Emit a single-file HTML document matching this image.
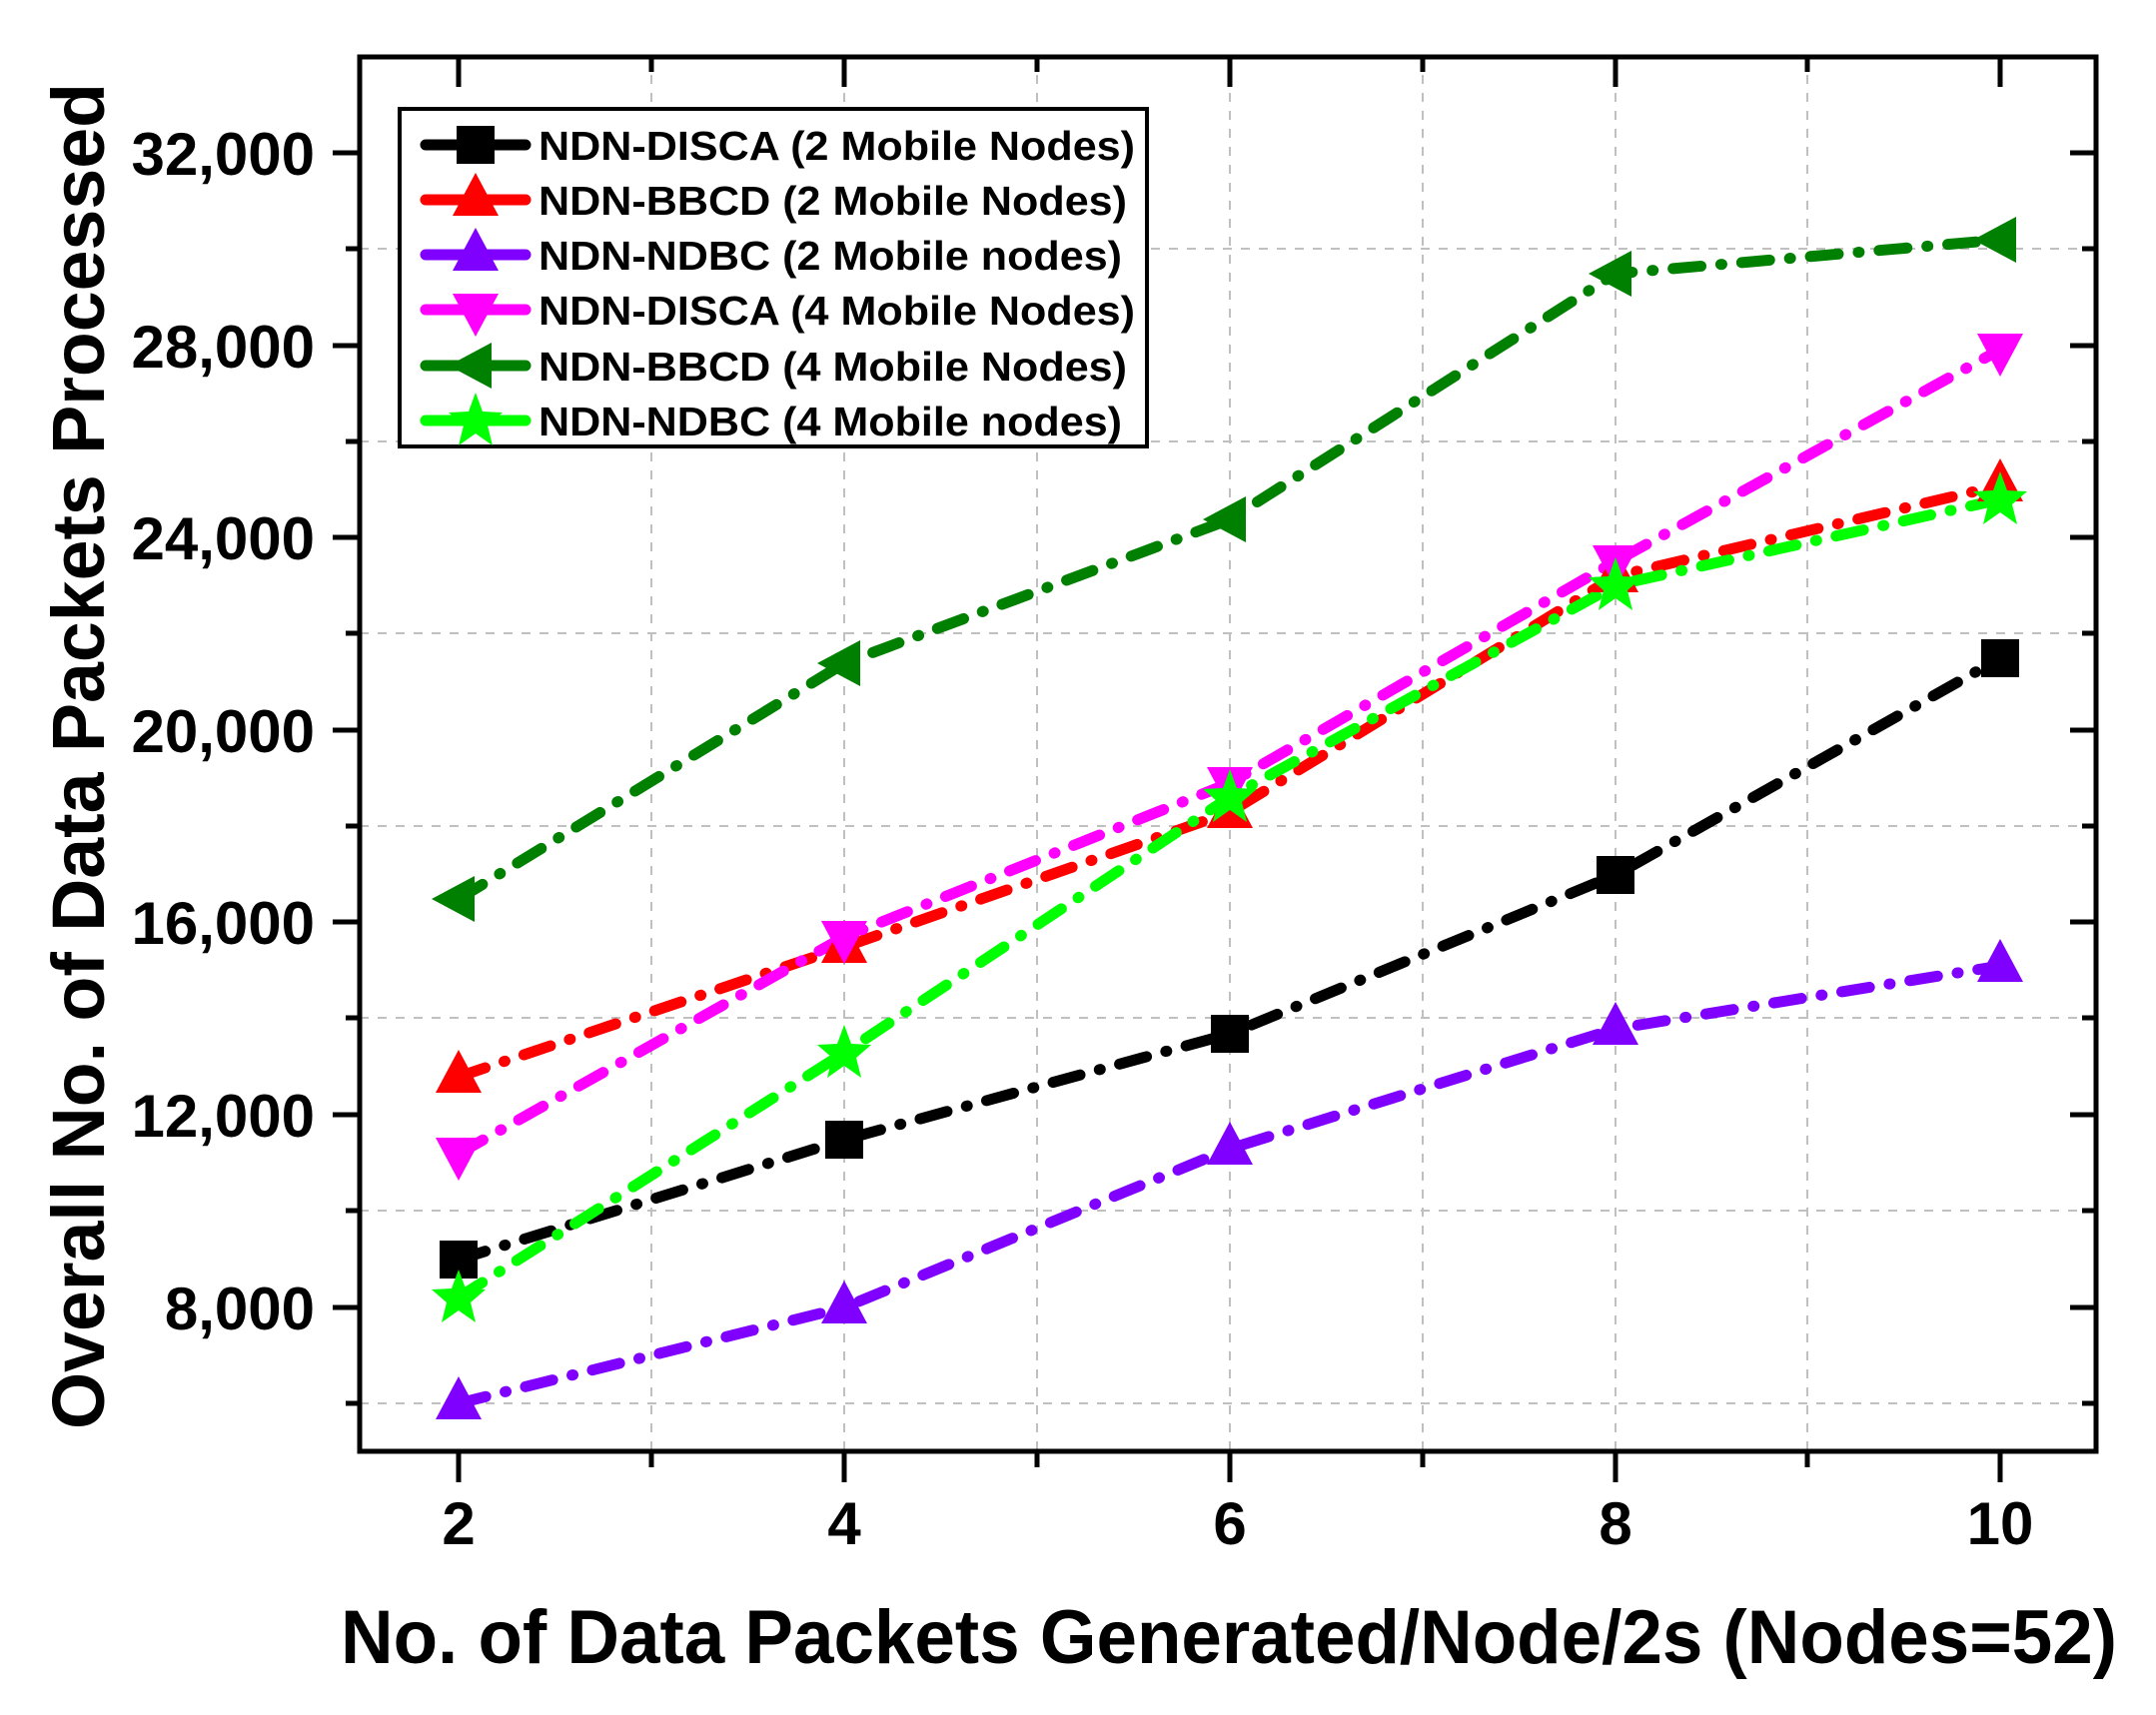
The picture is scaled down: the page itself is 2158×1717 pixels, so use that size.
<!DOCTYPE html>
<html><head><style>html,body{margin:0;padding:0;background:#fff;}svg{display:block}</style></head>
<body>
<svg width="2158" height="1717" viewBox="0 0 2158 1717" xmlns="http://www.w3.org/2000/svg" font-family="Liberation Sans, Arial, sans-serif" font-weight="bold">
<rect width="2158" height="1717" fill="#fff"/>
<g stroke="#c0c0c0" stroke-width="2" stroke-dasharray="9 9">
<line x1="360" y1="1405" x2="2098" y2="1405"/>
<line x1="360" y1="1212" x2="2098" y2="1212"/>
<line x1="360" y1="1019" x2="2098" y2="1019"/>
<line x1="360" y1="827" x2="2098" y2="827"/>
<line x1="360" y1="634" x2="2098" y2="634"/>
<line x1="360" y1="442" x2="2098" y2="442"/>
<line x1="360" y1="249" x2="2098" y2="249"/>
<line x1="652" y1="57" x2="652" y2="1453"/>
<line x1="845" y1="57" x2="845" y2="1453"/>
<line x1="1038" y1="57" x2="1038" y2="1453"/>
<line x1="1231" y1="57" x2="1231" y2="1453"/>
<line x1="1424" y1="57" x2="1424" y2="1453"/>
<line x1="1617" y1="57" x2="1617" y2="1453"/>
<line x1="1809" y1="57" x2="1809" y2="1453"/>
</g>
<rect x="360" y="57" width="1738" height="1396" fill="none" stroke="#000" stroke-width="5"/>
<g stroke="#000" stroke-width="5">
<line x1="333" y1="153" x2="360" y2="153"/><line x1="333" y1="346" x2="360" y2="346"/><line x1="333" y1="538" x2="360" y2="538"/><line x1="333" y1="731" x2="360" y2="731"/><line x1="333" y1="923" x2="360" y2="923"/><line x1="333" y1="1116" x2="360" y2="1116"/><line x1="333" y1="1309" x2="360" y2="1309"/>
<line x1="346" y1="249" x2="360" y2="249"/><line x1="346" y1="442" x2="360" y2="442"/><line x1="346" y1="634" x2="360" y2="634"/><line x1="346" y1="827" x2="360" y2="827"/><line x1="346" y1="1019" x2="360" y2="1019"/><line x1="346" y1="1212" x2="360" y2="1212"/><line x1="346" y1="1405" x2="360" y2="1405"/>
<line x1="2072" y1="153" x2="2098" y2="153"/><line x1="2072" y1="346" x2="2098" y2="346"/><line x1="2072" y1="538" x2="2098" y2="538"/><line x1="2072" y1="731" x2="2098" y2="731"/><line x1="2072" y1="923" x2="2098" y2="923"/><line x1="2072" y1="1116" x2="2098" y2="1116"/><line x1="2072" y1="1309" x2="2098" y2="1309"/>
<line x1="2084" y1="249" x2="2098" y2="249"/><line x1="2084" y1="442" x2="2098" y2="442"/><line x1="2084" y1="634" x2="2098" y2="634"/><line x1="2084" y1="827" x2="2098" y2="827"/><line x1="2084" y1="1019" x2="2098" y2="1019"/><line x1="2084" y1="1212" x2="2098" y2="1212"/><line x1="2084" y1="1405" x2="2098" y2="1405"/>
<line x1="459" y1="1453" x2="459" y2="1484"/><line x1="845" y1="1453" x2="845" y2="1484"/><line x1="1231" y1="1453" x2="1231" y2="1484"/><line x1="1617" y1="1453" x2="1617" y2="1484"/><line x1="2002" y1="1453" x2="2002" y2="1484"/>
<line x1="652" y1="1453" x2="652" y2="1469"/><line x1="1038" y1="1453" x2="1038" y2="1469"/><line x1="1424" y1="1453" x2="1424" y2="1469"/><line x1="1809" y1="1453" x2="1809" y2="1469"/>
<line x1="459" y1="57" x2="459" y2="87"/><line x1="845" y1="57" x2="845" y2="87"/><line x1="1231" y1="57" x2="1231" y2="87"/><line x1="1617" y1="57" x2="1617" y2="87"/><line x1="2002" y1="57" x2="2002" y2="87"/>
<line x1="652" y1="57" x2="652" y2="72"/><line x1="1038" y1="57" x2="1038" y2="72"/><line x1="1424" y1="57" x2="1424" y2="72"/><line x1="1809" y1="57" x2="1809" y2="72"/>
</g>
<g font-size="60" text-anchor="end" fill="#000">
<text x="315" y="175">32,000</text><text x="315" y="368">28,000</text><text x="315" y="560">24,000</text><text x="315" y="753">20,000</text><text x="315" y="945">16,000</text><text x="315" y="1138">12,000</text><text x="315" y="1331">8,000</text>
</g>
<g font-size="60" text-anchor="middle" fill="#000">
<text x="459" y="1546">2</text><text x="845" y="1546">4</text><text x="1231" y="1546">6</text><text x="1617" y="1546">8</text><text x="2002" y="1546">10</text>
</g>
<text x="341" y="1665" font-size="76" textLength="1778" lengthAdjust="spacingAndGlyphs">No. of Data Packets Generated/Node/2s (Nodes=52)</text>
<text transform="translate(104,1431) rotate(-90)" font-size="74" textLength="1348" lengthAdjust="spacingAndGlyphs">Overall No. of Data Packets Processed</text>

<defs>
<path id="sq" d="M-19,-19h38v38h-38z"/>
<path id="tu" d="M0,-27L23,16H-23z"/>
<path id="td" d="M0,27L23,-16H-23z"/>
<path id="tl" d="M-27,0L16,-23V23z"/>
<path id="st" d="M0,-28L7,-9L27,-8L12,5L17,25L0,13L-17,25L-12,5L-27,-8L-7,-9z"/>
</defs>
<g fill="none" stroke-width="11" stroke-linecap="round" stroke-dasharray="28 20 1 20">
<polyline stroke="#000" points="459,1261 845,1141 1231,1035 1617,876 2002,659"/>
<polyline stroke="#ff0000" points="459,1078 845,948 1231,813 1617,577 2002,486"/>
<polyline stroke="#7f00ff" points="459,1405 845,1309 1231,1150 1617,1030 2002,967"/>
<polyline stroke="#ff00ff" points="459,1155 845,938 1231,784 1617,562 2002,350"/>
<polyline stroke="#008000" points="459,900 845,664 1231,520 1617,274 2002,240"/>
<polyline stroke="#00ff00" points="459,1299 845,1054 1231,798 1617,586 2002,500"/>
</g>
<g fill="#000"><use href="#sq" x="459" y="1261"/><use href="#sq" x="845" y="1141"/><use href="#sq" x="1231" y="1035"/><use href="#sq" x="1617" y="876"/><use href="#sq" x="2002" y="659"/></g>
<g fill="#ff0000"><use href="#tu" x="459" y="1078"/><use href="#tu" x="845" y="948"/><use href="#tu" x="1231" y="813"/><use href="#tu" x="1617" y="577"/><use href="#tu" x="2002" y="486"/></g>
<g fill="#7f00ff"><use href="#tu" x="459" y="1405"/><use href="#tu" x="845" y="1309"/><use href="#tu" x="1231" y="1150"/><use href="#tu" x="1617" y="1030"/><use href="#tu" x="2002" y="967"/></g>
<g fill="#ff00ff"><use href="#td" x="459" y="1155"/><use href="#td" x="845" y="938"/><use href="#td" x="1231" y="784"/><use href="#td" x="1617" y="562"/><use href="#td" x="2002" y="350"/></g>
<g fill="#008000"><use href="#tl" x="459" y="900"/><use href="#tl" x="845" y="664"/><use href="#tl" x="1231" y="520"/><use href="#tl" x="1617" y="274"/><use href="#tl" x="2002" y="240"/></g>
<g fill="#00ff00"><use href="#st" x="459" y="1299"/><use href="#st" x="845" y="1054"/><use href="#st" x="1231" y="798"/><use href="#st" x="1617" y="586"/><use href="#st" x="2002" y="500"/></g>

<rect x="400" y="109" width="748" height="338" fill="#fff" stroke="#000" stroke-width="4"/>
<g stroke-width="11" stroke-linecap="round">
<line x1="426" y1="145" x2="526" y2="145" stroke="#000"/>
<line x1="426" y1="200" x2="526" y2="200" stroke="#ff0000"/>
<line x1="426" y1="255" x2="526" y2="255" stroke="#7f00ff"/>
<line x1="426" y1="310" x2="526" y2="310" stroke="#ff00ff"/>
<line x1="426" y1="366" x2="526" y2="366" stroke="#008000"/>
<line x1="426" y1="421" x2="526" y2="421" stroke="#00ff00"/>
</g>
<use href="#sq" x="476" y="145" fill="#000"/>
<use href="#tu" x="476" y="200" fill="#ff0000"/>
<use href="#tu" x="476" y="255" fill="#7f00ff"/>
<use href="#td" x="476" y="310" fill="#ff00ff"/>
<use href="#tl" x="476" y="366" fill="#008000"/>
<use href="#st" x="476" y="421" fill="#00ff00"/>
<g font-size="41" fill="#000">
<text x="539" y="160" textLength="597" lengthAdjust="spacingAndGlyphs">NDN-DISCA (2 Mobile Nodes)</text>
<text x="539" y="215" textLength="589" lengthAdjust="spacingAndGlyphs">NDN-BBCD (2 Mobile Nodes)</text>
<text x="539" y="270" textLength="584" lengthAdjust="spacingAndGlyphs">NDN-NDBC (2 Mobile nodes)</text>
<text x="539" y="325" textLength="597" lengthAdjust="spacingAndGlyphs">NDN-DISCA (4 Mobile Nodes)</text>
<text x="539" y="381" textLength="589" lengthAdjust="spacingAndGlyphs">NDN-BBCD (4 Mobile Nodes)</text>
<text x="539" y="436" textLength="584" lengthAdjust="spacingAndGlyphs">NDN-NDBC (4 Mobile nodes)</text>
</g>
</svg>
</body></html>
